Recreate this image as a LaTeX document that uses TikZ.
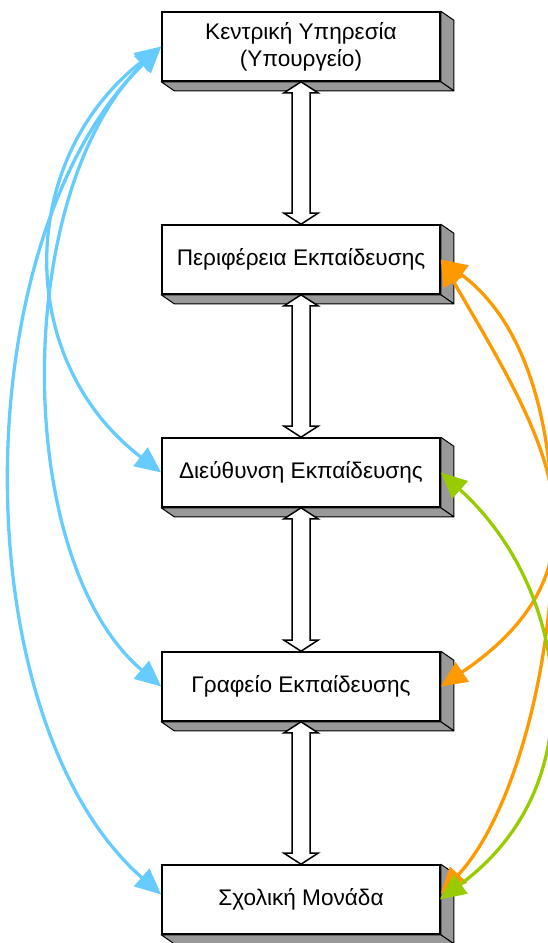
\documentclass[tikz,border=0pt]{standalone}
\usepackage{fontspec}
\setmainfont{Liberation Sans}
\usetikzlibrary{arrows.meta,calc}

\definecolor{skyline}{HTML}{66CCFF}
\definecolor{orangeline}{HTML}{FF9900}
\definecolor{greenline}{HTML}{99CC00}
\definecolor{sidegray}{HTML}{999999}

\tikzset{
  unitbox/.style={draw=black, line width=1.6pt, fill=white, minimum width=278pt,
    minimum height=69pt, inner sep=0pt, align=center,
    font=\fontsize{22.6}{27}\selectfont},
  sideface/.style={draw=black, line width=1pt, fill=sidegray, line join=round},
  hollowarrow/.style={draw=black, line width=1.5pt, fill=white, line join=miter},
  flow/.style={line width=3.3pt, {Triangle[length=26pt,width=23pt]}-{Triangle[length=26pt,width=23pt]}},
  bluelink/.style={flow, skyline},
  orangelink/.style={flow, orangeline},
  greenlink/.style={flow, greenline}
}

% 3D depth of each box: right face and bottom face
\newcommand{\boxdepth}[1]{%
  \path[sideface] (#1.north east) -- ++(13,9) -- ($(#1.south east)+(13,9)$) -- (#1.south east) -- cycle;
  \path[sideface] (#1.south west) -- ++(13,9) -- ($(#1.south east)+(13,9)$) -- (#1.south east) -- cycle;
}

% hollow two-headed arrow between two stacked boxes
\newcommand{\hollowlink}[2]{%
  \path[hollowarrow] (#1.south) -- ++(17,11) -- ++(-8,0) -- ($(#2.north)+(9,-11)$) -- ++(8,0)
    -- (#2.north) -- ++(-17,-11) -- ++(8,0) -- ($(#1.south)+(-9,11)$) -- ++(-8,0) -- cycle;
}

\begin{document}
\begin{tikzpicture}[x=1pt,y=-1pt]
\useasboundingbox (0,0) rectangle (548,943);

\node[unitbox] (b1) at (301,46.5) {Κεντρική Υπηρεσία\\(Υπουργείο)};
\node[unitbox] (b2) at (301,259.5) {Περιφέρεια Εκπαίδευσης};
\node[unitbox] (b3) at (301,472.5) {Διεύθυνση Εκπαίδευσης};
\node[unitbox] (b4) at (301,686.5) {Γραφείο Εκπαίδευσης};
\node[unitbox] (b5) at (301,899.5) {Σχολική Μονάδα};

\boxdepth{b1}
\boxdepth{b2}
\boxdepth{b3}
\boxdepth{b4}
\boxdepth{b5}

\hollowlink{b1}{b2}
\hollowlink{b2}{b3}
\hollowlink{b3}{b4}
\hollowlink{b4}{b5}

% ministry to the lower levels
\draw[bluelink] (b1.west) .. controls +(-145,113) and +(-147,-112) .. (b3.west);
\draw[bluelink] (b1.west) .. controls +(-149,143) and +(-150,-127) .. (b4.west);
\draw[bluelink] (b1.west) .. controls +(-199,193) and +(-199,-174) .. ([yshift=5pt]b5.west);

% regional directorate to office and school
\draw[orangelink] (b2.east) .. controls +(95,165) and +(188,-127) .. (b4.east);
\draw[orangelink] (b2.east) .. controls +(170,125) and +(113,-121) .. ([yshift=6pt]b5.east);

% directorate to school
\draw[greenlink] (b3.east) .. controls +(125,112) and +(160,-118) .. ([xshift=-1pt]b5.east);
\end{tikzpicture}
\end{document}
